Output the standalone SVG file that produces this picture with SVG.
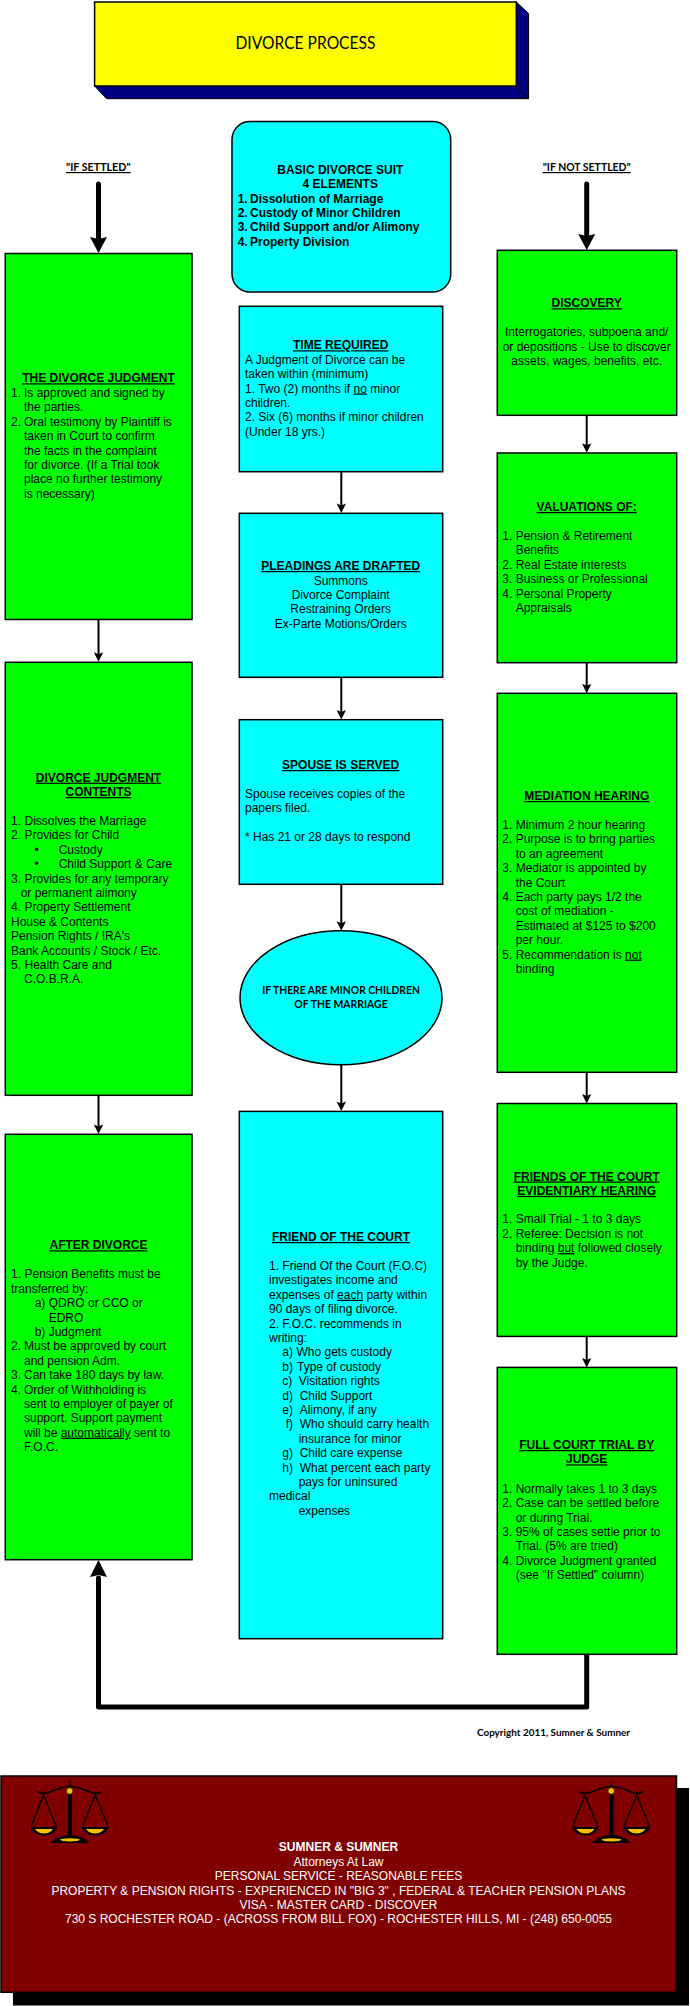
<svg xmlns="http://www.w3.org/2000/svg" xmlns:xlink="http://www.w3.org/1999/xlink" width="690" height="2006" viewBox="0 0 690 2006">
<style>
text{font-family:"Liberation Sans",Arial,sans-serif;font-size:12px;fill:#000}
.c{text-anchor:middle}
.b{font-weight:bold}
.h{font-weight:bold;text-anchor:middle;text-decoration:underline}
.u{text-decoration:underline}
.k{font-family:Lato,"Open Sans",sans-serif}
.w{fill:#fff;text-anchor:middle}
.box{stroke:#000;stroke-width:1.5}
.g{fill:#00ff00}
.a{fill:#00ffff}
.thin{stroke:#000;stroke-width:2;fill:none}
.thick{stroke:#000;stroke-width:5;fill:none;stroke-linejoin:round;stroke-linecap:round}
</style>
<defs>
<path id="hd" d="M-4.700 -9.500L0 -7.500L4.700 -9.500L0 0Z" fill="#000"/>
<g id="scales">
<rect x="68" y="1790" width="4" height="48" fill="#000"/>
<path d="M70 1777L71.200 1787H68.800Z" fill="#000"/>
<path d="M37.700 1791.500C43 1795 48 1793 55 1790C60 1788 65 1786.500 70 1786.500C75 1786.500 80 1788 85 1790C92 1793 97 1795 101.700 1791.500" fill="none" stroke="#000" stroke-width="1.600"/>
<circle cx="69.700" cy="1791" r="3.200" fill="#ffc000" stroke="#000" stroke-width=".6"/>
<path d="M31 1827L43.500 1795L56.500 1827M82.300 1827L95.300 1795L108.300 1827" fill="none" stroke="#000" stroke-width="1.400"/>
<path d="M31 1827H57C56 1832 50 1835.500 44 1835.500C38 1835.500 32 1832 31 1827ZM82 1827H108.500C107.500 1832 101.500 1835.500 95 1835.500C89 1835.500 83 1832 82 1827Z" fill="#000"/>
<path d="M35 1829H53C51 1832 47.500 1833.500 44 1833.500C40.500 1833.500 37 1832 35 1829ZM86 1829H104C102 1832 98.500 1833.500 95 1833.500C91.500 1833.500 88 1832 86 1829Z" fill="#ffc000"/>
<path d="M50.500 1843C55 1838 62 1835 70 1835C78 1835 85 1838 89.500 1843Z" fill="#000"/>
<ellipse cx="70" cy="1839.800" rx="10" ry="1.600" fill="#ffc000"/>
</g>
</defs>

<g id="connectors">
<path class="thin" d="M98.500 619.500V655"/><use href="#hd" xlink:href="#hd" x="98.500" y="661.700"/>
<path class="thin" d="M98.500 1095.300V1128"/><use href="#hd" xlink:href="#hd" x="98.500" y="1134"/>
<path class="thin" d="M341.300 471.700V507"/><use href="#hd" xlink:href="#hd" x="341.300" y="513"/>
<path class="thin" d="M341.300 677.300V713"/><use href="#hd" xlink:href="#hd" x="341.300" y="719.500"/>
<path class="thin" d="M341.300 884.300V924"/><use href="#hd" xlink:href="#hd" x="341.300" y="930.700"/>
<path class="thin" d="M341.300 1064.700V1104"/><use href="#hd" xlink:href="#hd" x="341.300" y="1111"/>
<path class="thin" d="M586.700 415.300V446"/><use href="#hd" xlink:href="#hd" x="586.700" y="452.700"/>
<path class="thin" d="M586.700 662.700V687"/><use href="#hd" xlink:href="#hd" x="586.700" y="693.300"/>
<path class="thin" d="M586.700 1072.300V1097"/><use href="#hd" xlink:href="#hd" x="586.700" y="1103.500"/>
<path class="thin" d="M586.700 1336.400V1361"/><use href="#hd" xlink:href="#hd" x="586.700" y="1367.400"/>
<path class="thick" d="M98.500 184V238"/><path d="M90 237L98.500 253L107 237L98.500 239Z"/>
<path class="thick" d="M586.700 184V235"/><path d="M578.200 234L586.700 250L595.200 234L586.700 236Z"/>
<path class="thick" d="M586.700 1654V1707H98.500V1578"/><path d="M90 1577L98.500 1560L107 1577L98.500 1575Z"/>
</g>

<g id="title">
<path d="M516.300 2L528.600 13.500V98.700H106.500L94.600 86H516.300Z" fill="#000080" stroke="#000" stroke-width="1"/>
<path d="M516.300 86L528.600 98.700" stroke="#000" stroke-width="1"/>
<rect class="box" x="94.600" y="2" width="421.700" height="84" fill="#ffff00"/>
<text class="c k" x="305.500" y="49" style="font-size:18px" textLength="140" lengthAdjust="spacingAndGlyphs">DIVORCE PROCESS</text>
</g>

<g id="label-settled"><text class="h k" x="98.300" y="171" textLength="64.700" lengthAdjust="spacingAndGlyphs">"IF SETTLED"</text></g>
<g id="label-not-settled"><text class="h k" x="586.700" y="171" textLength="88" lengthAdjust="spacingAndGlyphs">"IF NOT SETTLED"</text></g>

<g id="basic-suit">
<rect class="box a" x="232" y="121.500" width="218.700" height="170.500" rx="18"/>
<text class="b c" x="340.300" y="173.700">BASIC DIVORCE SUIT</text>
<text class="b c" x="340.300" y="188.100">4 ELEMENTS</text>
<text class="b" y="202.500"><tspan x="237.700">1.</tspan><tspan x="250">Dissolution of Marriage</tspan></text>
<text class="b" y="216.900"><tspan x="237.700">2.</tspan><tspan x="250">Custody of Minor Children</tspan></text>
<text class="b" y="231.300"><tspan x="237.700">3.</tspan><tspan x="250">Child Support and/or Alimony</tspan></text>
<text class="b" y="245.700"><tspan x="237.700">4.</tspan><tspan x="250">Property Division</tspan></text>
</g>

<g id="time-required">
<rect class="box a" x="239.300" y="306.300" width="203.400" height="165.400"/>
<text class="h" x="340.700" y="349.300">TIME REQUIRED</text>
<text x="245" y="363.700">A Judgment of Divorce can be</text>
<text x="245" y="378.100">taken within (minimum)</text>
<text x="245" y="392.500">1. Two (2) months if <tspan class="u">no</tspan> minor</text>
<text x="245" y="406.900">children.</text>
<text x="245" y="421.300">2. Six (6) months if minor children</text>
<text x="245" y="435.700">(Under 18 yrs.)</text>
</g>

<g id="pleadings">
<rect class="box a" x="239.300" y="513.300" width="203.400" height="164"/>
<text class="h" x="340.700" y="570">PLEADINGS ARE DRAFTED</text>
<text class="c" x="340.700" y="584.500">Summons</text>
<text class="c" x="340.700" y="598.900">Divorce Complaint</text>
<text class="c" x="340.700" y="613.300">Restraining Orders</text>
<text class="c" x="340.700" y="627.700">Ex-Parte Motions/Orders</text>
</g>

<g id="spouse-served">
<rect class="box a" x="239.300" y="719.700" width="203.400" height="164.600"/>
<text class="h" x="340.700" y="769">SPOUSE IS SERVED</text>
<text x="245" y="798">Spouse receives copies of the</text>
<text x="245" y="812.400">papers filed.</text>
<text x="245" y="841.200">* Has 21 or 28 days to respond</text>
</g>

<g id="minor-children">
<ellipse class="box a" cx="341" cy="997.700" rx="101" ry="67"/>
<text class="b c k" x="341" y="994" textLength="157.700" lengthAdjust="spacingAndGlyphs">IF THERE ARE MINOR CHILDREN</text>
<text class="b c k" x="341" y="1008.400" textLength="93.300" lengthAdjust="spacingAndGlyphs">OF THE MARRIAGE</text>
</g>

<g id="friend-of-court">
<rect class="box a" x="239.300" y="1111.400" width="203.400" height="527.300"/>
<text class="h" x="341" y="1241">FRIEND OF THE COURT</text>
<text x="269" y="1270">1. Friend Of the Court (F.O.C)</text>
<text x="269" y="1284.400">investigates income and</text>
<text x="269" y="1298.800">expenses of <tspan class="u">each</tspan> party within</text>
<text x="269" y="1313.200">90 days of filing divorce.</text>
<text x="269" y="1327.600">2. F.O.C. recommends in</text>
<text x="269" y="1342">writing:</text>
<text y="1356.400"><tspan x="282.300">a)</tspan><tspan x="296.500">Who gets custody</tspan></text>
<text y="1370.800"><tspan x="282.300">b)</tspan><tspan x="297">Type of custody</tspan></text>
<text y="1385.200"><tspan x="282.300">c)</tspan><tspan x="298.700">Visitation rights</tspan></text>
<text y="1399.600"><tspan x="282.300">d)</tspan><tspan x="299.700">Child Support</tspan></text>
<text y="1414"><tspan x="282.300">e)</tspan><tspan x="299.700">Alimony, if any</tspan></text>
<text y="1428.400"><tspan x="285.700">f)</tspan><tspan x="299.700">Who should carry health</tspan></text>
<text x="298.700" y="1442.800">insurance for minor</text>
<text y="1457.200"><tspan x="282.300">g)</tspan><tspan x="299.700">Child care expense</tspan></text>
<text y="1471.600"><tspan x="282.300">h)</tspan><tspan x="299.700">What percent each party</tspan></text>
<text x="298.700" y="1486">pays for uninsured</text>
<text x="269" y="1500.400">medical</text>
<text x="298.700" y="1514.800">expenses</text>
</g>

<g id="divorce-judgment">
<rect class="box g" x="5.300" y="253.500" width="186.700" height="366"/>
<text class="h" x="98.500" y="382.300">THE DIVORCE JUDGMENT</text>
<text y="397"><tspan x="11">1.</tspan><tspan x="24">Is approved and signed by</tspan></text>
<text x="24" y="411.400">the parties.</text>
<text y="425.800"><tspan x="11">2.</tspan><tspan x="24">Oral testimony by Plaintiff is</tspan></text>
<text x="24" y="440.200">taken in Court to confirm</text>
<text x="24" y="454.600">the facts in the complaint</text>
<text x="24" y="469">for divorce. (If a Trial took</text>
<text x="24" y="483.400">place no further testimony</text>
<text x="24" y="497.800">is necessary)</text>
</g>

<g id="judgment-contents">
<rect class="box g" x="5.300" y="662.300" width="186.700" height="433"/>
<text class="h" x="98.500" y="781.700">DIVORCE JUDGMENT</text>
<text class="h" x="98.500" y="796.100">CONTENTS</text>
<text y="825"><tspan x="11">1.</tspan><tspan x="24.500">Dissolves the Marriage</tspan></text>
<text y="839.400"><tspan x="11">2.</tspan><tspan x="24.500">Provides for Child</tspan></text>
<text y="853.800"><tspan x="34.500">•</tspan><tspan x="58.700">Custody</tspan></text>
<text y="868.200"><tspan x="34.500">•</tspan><tspan x="58.700">Child Support &amp; Care</tspan></text>
<text y="882.600"><tspan x="11">3.</tspan><tspan x="24.500">Provides for any temporary</tspan></text>
<text x="20.700" y="897">or permanent alimony</text>
<text y="911.400"><tspan x="11">4.</tspan><tspan x="24.500">Property Settlement</tspan></text>
<text x="11" y="925.800">House &amp; Contents</text>
<text x="11" y="940.200">Pension Rights / IRA's</text>
<text x="11" y="954.600">Bank Accounts / Stock / Etc.</text>
<text y="969"><tspan x="11">5.</tspan><tspan x="24.500">Health Care and</tspan></text>
<text x="24" y="983.400">C.O.B.R.A.</text>
</g>

<g id="after-divorce">
<rect class="box g" x="5.300" y="1134.300" width="186.700" height="425.400"/>
<text class="h" x="98.500" y="1249.300">AFTER DIVORCE</text>
<text y="1278.300"><tspan x="11">1.</tspan><tspan x="24.500">Pension Benefits must be</tspan></text>
<text x="11" y="1292.700">transferred by:</text>
<text y="1307.100"><tspan x="34.700">a)</tspan><tspan x="48.700">QDRO or CCO or</tspan></text>
<text x="48.700" y="1321.500">EDRO</text>
<text y="1335.900"><tspan x="34.700">b)</tspan><tspan x="48.700">Judgment</tspan></text>
<text y="1350.300"><tspan x="11">2.</tspan><tspan x="24">Must be approved by court</tspan></text>
<text x="24" y="1364.700">and pension Adm.</text>
<text y="1379.100"><tspan x="11">3.</tspan><tspan x="24">Can take 180 days by law.</tspan></text>
<text y="1393.500"><tspan x="11">4.</tspan><tspan x="24">Order of Withholding is</tspan></text>
<text x="24" y="1407.900">sent to employer of payer of</text>
<text x="24" y="1422.300">support. Support payment</text>
<text x="24" y="1436.700">will be <tspan class="u">automatically</tspan> sent to</text>
<text x="24" y="1451.100">F.O.C.</text>
</g>

<g id="discovery">
<rect class="box g" x="497.300" y="250.300" width="179.400" height="165"/>
<text class="h" x="586.700" y="307.300">DISCOVERY</text>
<text class="c" x="586.700" y="336.300">Interrogatories, subpoena and/</text>
<text class="c" x="586.700" y="350.700">or depositions - Use to discover</text>
<text class="c" x="586.700" y="365.100">assets, wages, benefits, etc.</text>
</g>

<g id="valuations">
<rect class="box g" x="497.300" y="453" width="179.400" height="209.700"/>
<text class="h" x="586.700" y="511">VALUATIONS OF:</text>
<text y="540"><tspan x="502.300">1.</tspan><tspan x="515.700">Pension &amp; Retirement</tspan></text>
<text x="515.700" y="554.400">Benefits</text>
<text y="568.800"><tspan x="502.300">2.</tspan><tspan x="515.700">Real Estate interests</tspan></text>
<text y="583.200"><tspan x="502.300">3.</tspan><tspan x="515.700">Business or Professional</tspan></text>
<text y="597.600"><tspan x="502.300">4.</tspan><tspan x="515.700">Personal Property</tspan></text>
<text x="515.700" y="612">Appraisals</text>
</g>

<g id="mediation">
<rect class="box g" x="497.300" y="693.300" width="179.400" height="379"/>
<text class="h" x="586.700" y="800">MEDIATION HEARING</text>
<text y="829"><tspan x="502.300">1.</tspan><tspan x="515.700">Minimum 2 hour hearing</tspan></text>
<text y="843.400"><tspan x="502.300">2.</tspan><tspan x="515.700">Purpose is to bring parties</tspan></text>
<text x="515.700" y="857.800">to an agreement</text>
<text y="872.200"><tspan x="502.300">3.</tspan><tspan x="515.700">Mediator is appointed by</tspan></text>
<text x="515.700" y="886.600">the Court</text>
<text y="901"><tspan x="502.300">4.</tspan><tspan x="515.700">Each party pays 1/2 the</tspan></text>
<text x="515.700" y="915.400">cost of mediation -</text>
<text x="515.700" y="929.800">Estimated at $125 to $200</text>
<text x="515.700" y="944.200">per hour.</text>
<text y="958.600"><tspan x="502.300">5.</tspan><tspan x="515.700">Recommendation is </tspan><tspan class="u">not</tspan></text>
<text x="515.700" y="973">binding</text>
</g>

<g id="evidentiary">
<rect class="box g" x="497.300" y="1103.500" width="179.400" height="232.900"/>
<text class="h" x="586.700" y="1180.500">FRIENDS OF THE COURT</text>
<text class="h" x="586.700" y="1194.900">EVIDENTIARY HEARING</text>
<text y="1223.300"><tspan x="502.300">1.</tspan><tspan x="515.700">Small Trial - 1 to 3 days</tspan></text>
<text y="1237.700"><tspan x="502.300">2.</tspan><tspan x="515.700">Referee: Decision is not</tspan></text>
<text x="515.700" y="1252.100">binding <tspan class="u">but</tspan> followed closely</text>
<text x="515.700" y="1266.500">by the Judge.</text>
</g>

<g id="full-trial">
<rect class="box g" x="497.300" y="1367.400" width="179.400" height="286.900"/>
<text class="h" x="586.700" y="1449">FULL COURT TRIAL BY</text>
<text class="h" x="586.700" y="1463.400">JUDGE</text>
<text y="1492.800"><tspan x="502.300">1.</tspan><tspan x="515.700">Normally takes 1 to 3 days</tspan></text>
<text y="1507.200"><tspan x="502.300">2.</tspan><tspan x="515.700">Case can be settled before</tspan></text>
<text x="515.700" y="1521.600">or during Trial.</text>
<text y="1536"><tspan x="502.300">3.</tspan><tspan x="515.700">95% of cases settle prior to</tspan></text>
<text x="515.700" y="1550.400">Trial. (5% are tried)</text>
<text y="1564.800"><tspan x="502.300">4.</tspan><tspan x="515.700">Divorce Judgment granted</tspan></text>
<text x="515.700" y="1579.200">(see "If Settled" column)</text>
</g>

<g id="copyright"><text class="b c k" x="553.500" y="1736" style="font-size:10px" textLength="153" lengthAdjust="spacingAndGlyphs">Copyright 2011, Sumner &amp; Sumner</text></g>

<g id="footer">
<rect x="13" y="1788" width="676" height="217.500" fill="#000"/>
<rect x="1" y="1776" width="675.500" height="216.300" fill="#800000" stroke="#000" stroke-width="1.500"/>
<use href="#scales" xlink:href="#scales"/>
<use href="#scales" xlink:href="#scales" x="541.500"/>
<text class="w b" x="338.500" y="1851.300">SUMNER &amp; SUMNER</text>
<text class="w" x="338.500" y="1865.700">Attorneys At Law</text>
<text class="w" x="338.500" y="1880.100">PERSONAL SERVICE - REASONABLE FEES</text>
<text class="w" x="338.500" y="1894.500">PROPERTY &amp; PENSION RIGHTS - EXPERIENCED IN "BIG 3" , FEDERAL &amp; TEACHER PENSION PLANS</text>
<text class="w" x="338.500" y="1908.900">VISA - MASTER CARD - DISCOVER</text>
<text class="w" x="338.500" y="1923.300">730 S ROCHESTER ROAD - (ACROSS FROM BILL FOX) - ROCHESTER HILLS, MI - (248) 650-0055</text>
</g>
</svg>
